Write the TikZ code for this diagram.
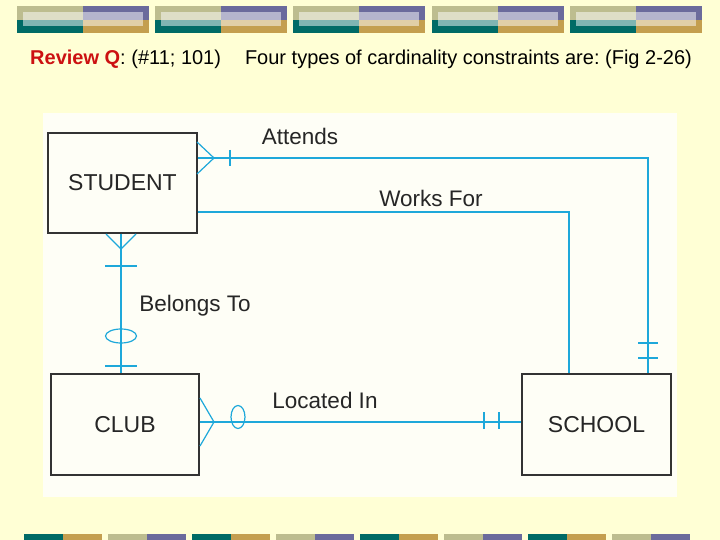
\documentclass[tikz,border=0pt]{standalone}
\usepackage{fontspec}
\setmainfont{Liberation Sans}
\frenchspacing
\definecolor{bgY}{HTML}{FFFFD5}
\definecolor{panelW}{HTML}{FEFEF6}
\definecolor{tealC}{HTML}{006B66}
\definecolor{goldC}{HTML}{C49F4F}
\definecolor{oliveC}{HTML}{BDBD8F}
\definecolor{purpC}{HTML}{6B6B9C}
\definecolor{erLine}{HTML}{1EA8DA}
\definecolor{boxLine}{HTML}{333333}
\definecolor{titleRed}{HTML}{CC1111}
\tikzset{
  entity/.style={draw=boxLine, line width=1.3pt, rectangle, inner sep=0pt, font=\fontsize{23}{27}\selectfont, text=black!85},
  rel/.style={draw=erLine, line width=1.2pt},
  rellabel/.style={font=\fontsize{22.5}{27}\selectfont, text=black!85, inner sep=0pt},
}
\begin{document}
\begin{tikzpicture}[x=1pt,y=-1pt]
\fill[bgY] (0,0) rectangle (720,540);
\useasboundingbox (0,0) rectangle (720,540);
% header banner
\foreach \i in {0,...,4}{
  \pgfmathsetmacro{\xo}{17+138.2*\i}
  \fill[oliveC] (\xo,6) rectangle ++(66,14);
  \fill[purpC] (\xo+66,6) rectangle ++(66,14);
  \fill[tealC] (\xo,20) rectangle ++(66,13);
  \fill[goldC] (\xo+66,20) rectangle ++(66,13);
  \fill[white,opacity=0.5] (\xo+6,12) rectangle (\xo+126,26);
}
% footer banner
\foreach \i in {0,...,7}{
  \pgfmathsetmacro{\xo}{24+84*\i}
  \pgfmathtruncatemacro{\odd}{mod(\i,2)}
  \ifnum\odd=0
    \fill[tealC] (\xo,534) rectangle ++(39,6);
    \fill[goldC] (\xo+39,534) rectangle ++(39,6);
  \else
    \fill[oliveC] (\xo,534) rectangle ++(39,6);
    \fill[purpC] (\xo+39,534) rectangle ++(39,6);
  \fi
}
% title
\node[anchor=base west, inner sep=0pt, font=\fontsize{20}{24}\selectfont] (title) at (30,65)
  {\textbf{\textcolor{titleRed}{Review Q}}: (\#11; 101)\hspace{24pt}Four types of cardinality constraints are: (Fig 2-26)};
% panel
\fill[panelW] (43,113) rectangle (677,497);
% entities
\node[entity, minimum width=149pt, minimum height=100pt] (student) at (122.5,183) {STUDENT};
\node[entity, minimum width=148pt, minimum height=101pt] (club) at (125,424.5) {CLUB};
\node[entity, minimum width=149pt, minimum height=101pt] (school) at (596.5,424.5) {SCHOOL};
% coordinates
\coordinate (att) at (648,158);
\coordinate (wf) at (569,212);
\coordinate (bt) at (121,300);
\coordinate (li) at (360,422);
% Attends
\draw[rel] (student.east |- att) -- (att) -- (school.north -| att);
\draw[rel] (197,142) -- (214,158) -- (197,174);
\draw[rel] (230,150) -- (230,166);
\draw[rel] (638,343) -- (658,343);
\draw[rel] (638,358) -- (658,358);
\node[rellabel] (lAtt) at (300,136) {Attends};
% Works For
\draw[rel] (student.east |- wf) -- (wf) -- (school.north -| wf);
\node[rellabel] (lWf) at (431,198) {Works For};
% Belongs To
\draw[rel] (student.south -| bt) -- (club.north -| bt);
\draw[rel] (106,234) -- (121,249) -- (136,234);
\draw[rel] (105,266) -- (137,266);
\draw[rel] (121,336) ellipse [x radius=15.5, y radius=7];
\draw[rel] (105,366) -- (137,366);
\node[rellabel] (lBt) at (195,306) {Belongs To};
% Located In
\draw[rel] (club.east |- li) -- (school.west |- li);
\draw[rel] (200,398) -- (214,422) -- (200,446);
\draw[rel] (238,417) ellipse [x radius=7, y radius=11.5];
\draw[rel] (484,412) -- (484,429);
\draw[rel] (499,412) -- (499,429);
\node[rellabel] (lLi) at (325,400) {Located In};
\end{tikzpicture}
\end{document}
